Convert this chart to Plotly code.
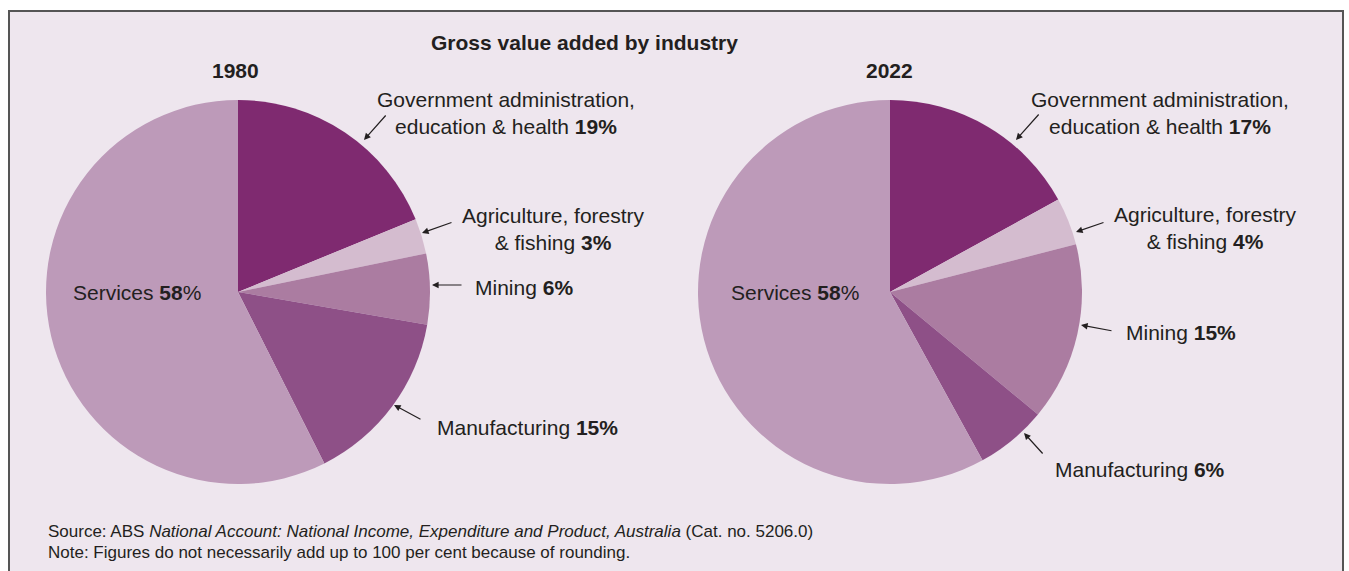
import plotly.graph_objects as go

# Gross value added shares by industry (per cent)
sectors = ["Government administration, education & health",
           "Agriculture, forestry & fishing",
           "Mining",
           "Manufacturing",
           "Services"]
share_1980 = [19, 3, 6, 15, 58]
share_2022 = [17, 4, 15, 6, 58]
years = ["1980", "2022"]

# How each sector name is broken over lines in its label
label_names = ["Government administration,<br>education & health",
               "Agriculture, forestry<br>& fishing",
               "Mining",
               "Manufacturing",
               "Services"]

colors = ["#7f2a70", "#d4bccf", "#ab7ca1", "#8e5087", "#bd9ab9"]

W, H = 1349, 571
FONT = "Liberation Sans, Arial, Helvetica, sans-serif"
INK = "#231f20"


def px(x):
    return x / W


def py(y):
    return 1 - y / H


# pie centres and radius in page pixels
pies = [dict(cx=238, cy=292, r=192), dict(cx=890, cy=292, r=192)]

fig = go.Figure()
for vals, p, yr in zip([share_1980, share_2022], pies, years):
    fig.add_trace(go.Pie(
        labels=sectors,
        values=vals,
        sort=False,
        direction="clockwise",
        rotation=0,
        marker=dict(colors=colors, line=dict(width=0)),
        textinfo="none",
        hoverinfo="label+value",
        showlegend=False,
        domain=dict(x=[px(p["cx"] - p["r"]), px(p["cx"] + p["r"])],
                    y=[py(p["cy"] + p["r"]), py(p["cy"] - p["r"])]),
    ))

annotations = []


def text(x, y, s, size=21, xanchor="center", align="center"):
    annotations.append(dict(
        x=px(x), y=py(y), xref="paper", yref="paper", text=s,
        showarrow=False, xanchor=xanchor, yanchor="middle", align=align,
        font=dict(family=FONT, size=size, color=INK)))


def arrow(tail, tip):
    annotations.append(dict(
        x=px(tip[0]), y=py(tip[1]), xref="paper", yref="paper",
        ax=tail[0] - tip[0], ay=tail[1] - tip[1],
        axref="pixel", ayref="pixel", text="", showarrow=True,
        arrowhead=2, arrowsize=1.1, arrowwidth=1.2, arrowcolor=INK,
        standoff=0, startstandoff=0))


# label centres and arrow (tail, tip) for each pie, in page pixels
label_pos = [
    [(506, 113), (553, 229), (524, 287), (527, 427), (137, 292)],
    [(1160, 113), (1205, 228), (1181, 332), (1140, 469), (795, 292)],
]
arrow_pos = [
    [((387, 114), (364, 140)), ((453, 222), (422, 233)),
     ((463, 285), (432, 285)), ((422, 420), (394, 405))],
    [((1040, 113), (1016, 140)), ((1105, 222), (1076, 232)),
     ((1113, 331), (1081, 325)), ((1044, 455), (1024, 433))],
]

for vals, lp, ap in zip([share_1980, share_2022], label_pos, arrow_pos):
    for i, (name, v) in enumerate(zip(label_names, vals)):
        if name == "Services":
            s = f"{name} <b>{v}</b>%"
        else:
            s = f"{name} <b>{v}%</b>"
        text(lp[i][0], lp[i][1], s)
    for tail, tip in ap:
        arrow(tail, tip)

# titles
text(584, 42, "<b>Gross value added by industry</b>")
text(235, 71, f"<b>{years[0]}</b>")
text(889, 71, f"<b>{years[1]}</b>")

# source and note
text(46, 531, "Source: ABS <i>National Account: National Income, Expenditure "
              "and Product, Australia</i> (Cat. no. 5206.0)",
     size=17, xanchor="left", align="left")
text(46, 552, "Note: Figures do not necessarily add up to 100 per cent because of rounding.",
     size=17, xanchor="left", align="left")

fig.update_layout(
    width=W, height=H,
    margin=dict(l=0, r=0, t=0, b=0),
    paper_bgcolor="white",
    plot_bgcolor="white",
    font=dict(family=FONT, color=INK),
    # framed panel that runs off the bottom of the page
    shapes=[dict(type="rect", xref="paper", yref="paper",
                 x0=px(9), x1=px(1343), y0=py(900), y1=py(11),
                 fillcolor="#eee6ee", line=dict(color="#555555", width=2),
                 layer="below")],
    annotations=annotations,
)

fig.write_html("out.html")
